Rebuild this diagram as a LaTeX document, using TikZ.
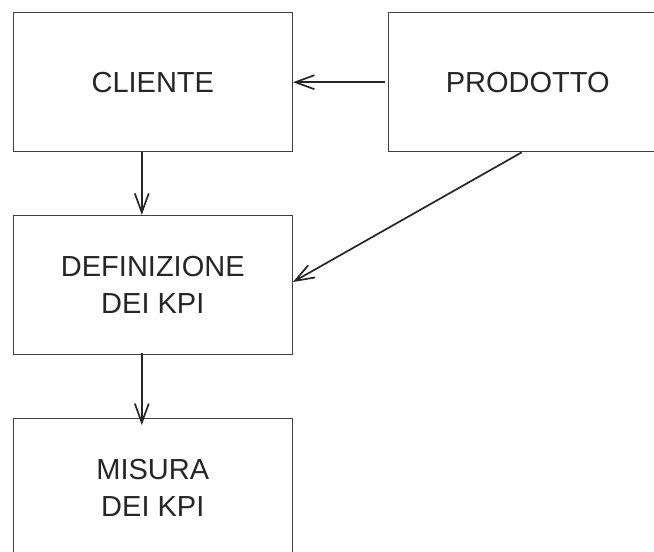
\documentclass[tikz,border=0pt]{standalone}
\usepackage{fontspec}
\setmainfont{Liberation Sans}
\usetikzlibrary{arrows.meta}
\tikzset{
  box/.style={draw=black!75, line width=1.3pt, minimum width=279pt, minimum height=139pt, align=center, inner sep=0pt, font=\fontsize{29}{37}\selectfont, text=black!85},
  conn/.style={draw=black!85, line width=1.7pt, -{Straight Barb[length=19pt, width=14pt, line width=1.7pt]}}
}
\begin{document}
\begin{tikzpicture}[x=1pt, y=-1pt]
\useasboundingbox (0,0) rectangle (654,552);
\clip (0,0) rectangle (654,552);
\fill[white] (0,0) rectangle (654,552);
\node[box] (c) at (152.8,82.2) {CLIENTE};
\node[box] (p) at (527.7,82.2) {PRODOTTO};
\node[box] (d) at (152.8,285) {DEFINIZIONE\\DEI KPI};
\node[box] (m) at (152.8,488.2) {MISURA\\DEI KPI};
\draw[conn] ([xshift=-3pt]p.west) -- (c.east);
\draw[conn] ([xshift=-11pt]c.south) -- ([xshift=-11pt]d.north);
\draw[conn] ([xshift=-6pt]p.south) -- ([yshift=3pt]d.east);
\draw[conn] ([xshift=-11pt,yshift=2pt]d.south) -- ([xshift=-11pt,yshift=-7pt]m.north);
\end{tikzpicture}
\end{document}
